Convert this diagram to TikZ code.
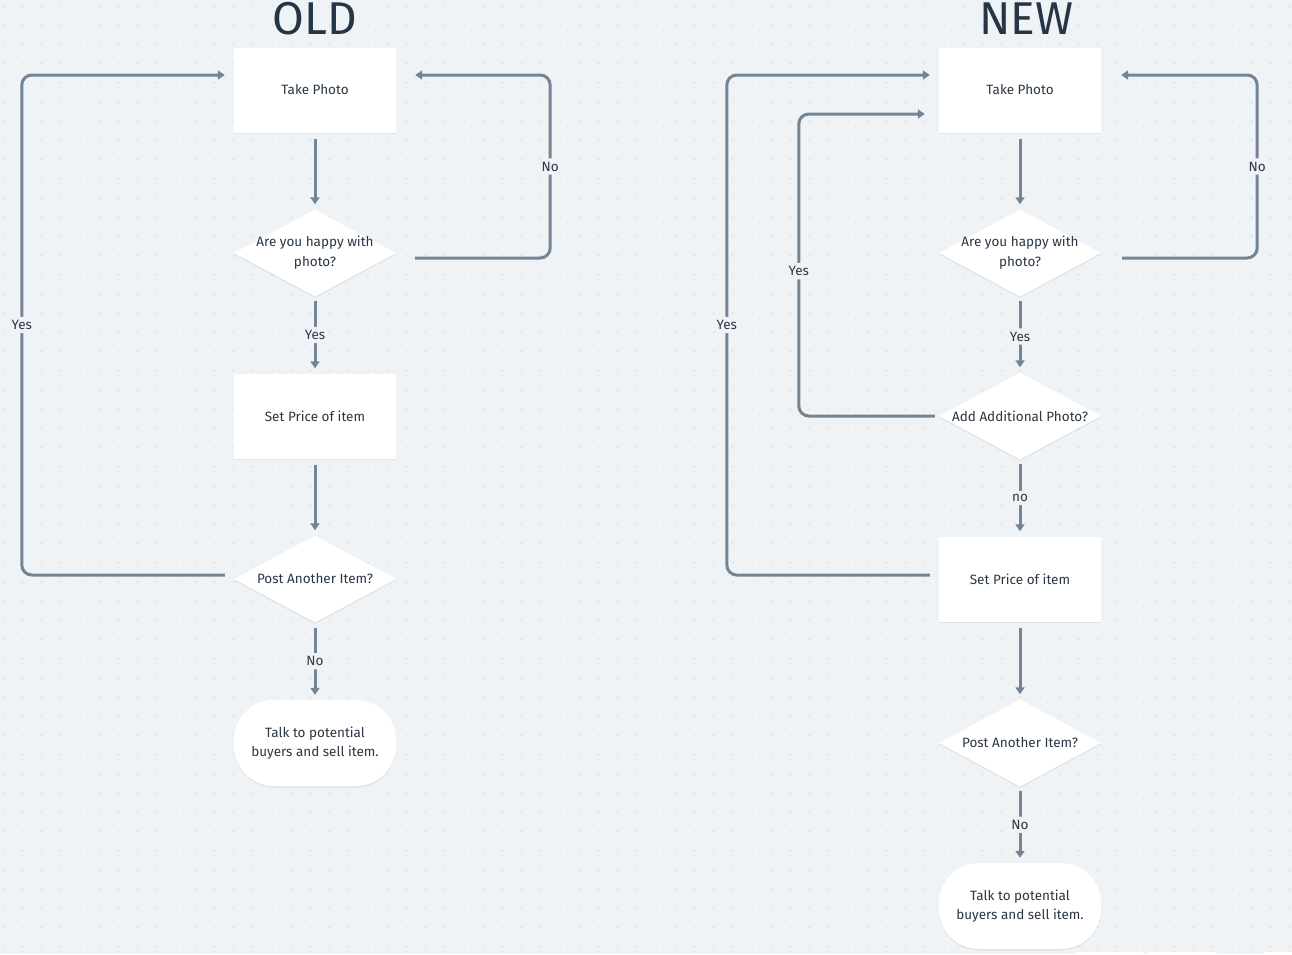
\documentclass[tikz,border=0pt]{standalone}
\usepackage{fontspec}
\setmainfont{Fira Sans}
\usetikzlibrary{arrows.meta,shapes.geometric,shadows,calc}
\definecolor{bgc}{HTML}{EFF3F6}
\definecolor{dotc}{HTML}{D0D7DE}
\definecolor{linec}{HTML}{738494}
\definecolor{txtc}{HTML}{2A3744}
\definecolor{titlec}{HTML}{263545}
\begin{document}
\begin{tikzpicture}[x=1pt,y=-1pt,
  every node/.style={text=txtc, font=\fontsize{13.5}{19}\selectfont},
  shad/.style={drop shadow={shadow xshift=0pt, shadow yshift=-1.5pt, opacity=0.06, fill=black}},
  boxnode/.style={rectangle, fill=white, minimum width=162pt, minimum height=85pt, inner sep=0pt, align=center, shad},
  dianode/.style={diamond, fill=white, minimum width=162pt, minimum height=87pt, inner sep=0pt, shad},
  dtext/.style={align=center, inner sep=0pt, text=txtc, font=\fontsize{13.5}{20}\selectfont},
  termnode/.style={rectangle, rounded corners=40pt, fill=white, minimum width=162pt, minimum height=86pt, inner sep=0pt, align=center, shad},
  conn/.style={draw=linec, line width=3pt, rounded corners=10pt, -{Triangle[length=7pt,width=9pt]}},
  lbl/.style={fill=bgc, inner sep=3.5pt, text=txtc},
  titlenode/.style={inner sep=0pt, text=titlec, font=\fontsize{46}{50}\selectfont}
]
\fill[bgc] (0,0) rectangle (1292,954);
\useasboundingbox (0,0) rectangle (1292,954);
\foreach \i in {0,...,67} {
  \foreach \j in {0,...,49} {
    \fill[dotc] (3.3+19.2*\i, 6+19.2*\j) circle (0.85pt);
  }
}
% bottom cut-off shapes
\fill[white] (1077,951.5) rectangle (1143,954);
\fill[white] (1148,951.5) rectangle (1217,954);
\fill[white] (1264,951.5) rectangle (1292,954);

% ---------- OLD ----------
\node[titlenode] (t1) at (315,19) {OLD};
\node[boxnode] (tp1) at (315,90) {Take Photo};
\node[dianode, label={[dtext]center:Are you happy with\\photo?}] (d1) at (315,253) {};
\node[boxnode] (sp1) at (315,416) {Set Price of item};
\node[dianode, label={[dtext]center:Post Another Item?}] (d2) at (315,579) {};
\node[termnode] (e1) at (315,743) {Talk to potential\\buyers and sell item.};

\draw[conn, shorten <=6pt, shorten >=5pt] (tp1) -- (d1);
\draw[conn, shorten <=4pt, shorten >=5pt] (d1) -- node[lbl] {Yes} (sp1);
\draw[conn, shorten <=6pt, shorten >=5pt] (sp1) -- (d2);
\draw[conn, shorten <=5pt, shorten >=5pt] (d2) -- node[lbl] {No} (e1);
\draw[conn] ($(d1.east)+(19,5)$) -- ++(135,0) |- node[lbl, pos=0.25] {No} ($(tp1.east)+(19,-15)$);
\draw[conn] ($(d2.west)+(-9,-4)$) -- ++(-203,0) |- node[lbl, pos=0.25] {Yes} ($(tp1.west)+(-9,-15)$);

% ---------- NEW ----------
\node[titlenode] (t2) at (1026,19) {NEW};
\node[boxnode] (tp2) at (1020,90) {Take Photo};
\node[dianode, label={[dtext]center:Are you happy with\\photo?}] (d3) at (1020,253) {};
\node[dianode, label={[dtext]center:Add Additional Photo?}] (d4) at (1020,416) {};
\node[boxnode] (sp2) at (1020,579) {Set Price of item};
\node[dianode, label={[dtext]center:Post Another Item?}] (d5) at (1020,743) {};
\node[termnode] (e2) at (1020,906) {Talk to potential\\buyers and sell item.};

\draw[conn, shorten <=6pt, shorten >=5pt] (tp2) -- (d3);
\draw[conn, shorten <=4pt, shorten >=5pt] (d3) -- node[lbl, yshift=-2pt] {Yes} (d4);
\draw[conn, shorten <=4pt, shorten >=5pt] (d4) -- node[lbl] {no} (sp2);
\draw[conn, shorten <=6pt, shorten >=5pt] (sp2) -- (d5);
\draw[conn, shorten <=4pt, shorten >=5pt] (d5) -- node[lbl] {No} (e2);
\draw[conn] ($(d3.east)+(21,5)$) -- ++(135,0) |- node[lbl, pos=0.25] {No} ($(tp2.east)+(20,-15)$);
\draw[conn] ($(sp2.west)+(-9,-4)$) -- ++(-203,0) |- node[lbl, pos=0.25] {Yes} ($(tp2.west)+(-9,-15)$);
\draw[conn] ($(d4.west)+(-4,0)$) -- ++(-136,0) |- node[lbl, pos=0.24] {Yes} ($(tp2.west)+(-14,24)$);
\end{tikzpicture}
\end{document}
